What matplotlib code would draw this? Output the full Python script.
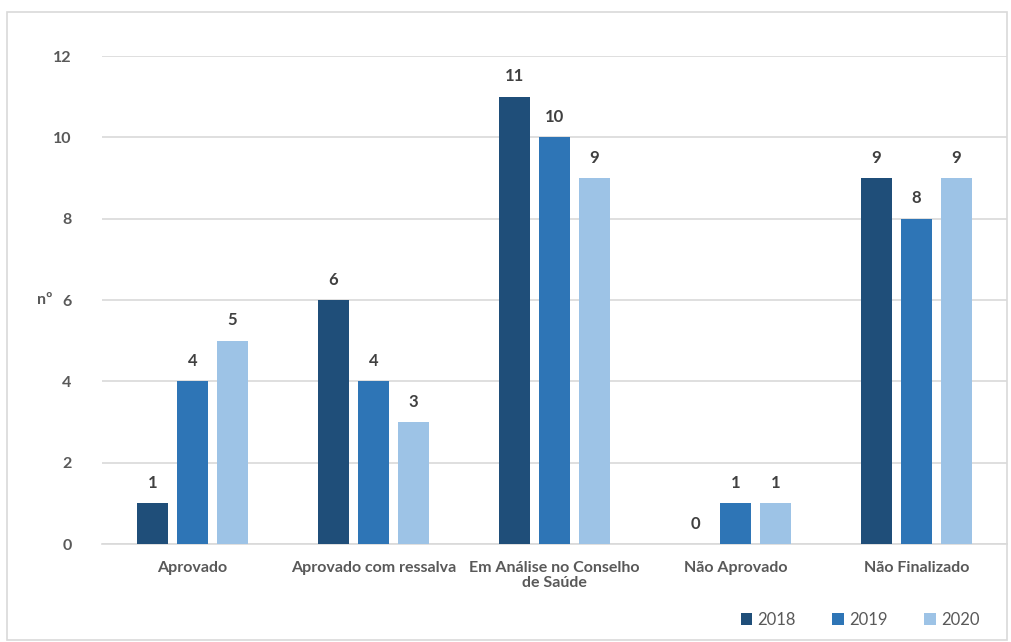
import numpy as np
import matplotlib.pyplot as plt
from matplotlib.patches import Rectangle

categories = ["Aprovado", "Aprovado com ressalva", "Em Análise no Conselho\nde Saúde",
              "Não Aprovado", "Não Finalizado"]
years = ["2018", "2019", "2020"]
v2018 = [1, 6, 11, 0, 9]
v2019 = [4, 4, 10, 1, 8]
v2020 = [5, 3, 9, 1, 9]
colors = ["#1F4E79", "#2E75B6", "#9DC3E6"]

plt.rcParams['font.family'] = ['Lato', 'DejaVu Sans']

fig = plt.figure(figsize=(10.11, 6.42), dpi=100)
ax = fig.add_axes([102 / 1011, 1 - 544 / 642, 905 / 1011, 488 / 642])

x = np.arange(len(categories))
step = 0.221
width = 0.171
for i, (vals, yr) in enumerate(zip([v2018, v2019, v2020], years)):
    pos = x + (i - 1) * step
    bars = ax.bar(pos, vals, width, color=colors[i], label=yr, zorder=3)
    for b, v in zip(bars, vals):
        ax.text(b.get_x() + b.get_width() / 2, v + 0.3, str(v), ha='center', va='bottom',
                fontsize=12, fontweight='bold', color='#404040')

ax.set_xlim(-0.5, len(categories) - 0.5)
ax.set_ylim(0, 12)
ax.set_yticks(range(0, 13, 2))
ax.yaxis.grid(True, color='#D9D9D9', linewidth=1.2, zorder=0)
ax.set_xticks(x)
ax.set_xticklabels(categories, fontsize=11.5, fontweight='bold', color='#595959',
                   linespacing=1.1, multialignment='center')
ax.tick_params(axis='y', labelsize=11.5, labelcolor='#595959', length=0, pad=22)
ax.tick_params(axis='x', length=0, pad=12)
for lbl in ax.get_yticklabels():
    lbl.set_fontweight('bold')
for s in ['top', 'right', 'left']:
    ax.spines[s].set_visible(False)
ax.spines['bottom'].set_color('#D9D9D9')
ax.spines['bottom'].set_linewidth(1.2)

fig.text(45 / 1011, 1 - 300 / 642, "nº", fontsize=11.5, fontweight='bold', color='#595959',
         ha='center', va='center')

fig.legend(loc='center', bbox_to_anchor=(860 / 1011, 1 - 620 / 642), ncol=3, frameon=False,
           fontsize=12, labelcolor='#595959', handlelength=0.7, handleheight=0.7,
           handletextpad=0.3, columnspacing=2.2)

fig.patches.append(Rectangle((7 / 1011, 2 / 642), 1000 / 1011, 628 / 642, transform=fig.transFigure,
                             fill=False, edgecolor='#D9D9D9', linewidth=1.2))

fig.savefig("out.png", dpi=100, facecolor='white')
